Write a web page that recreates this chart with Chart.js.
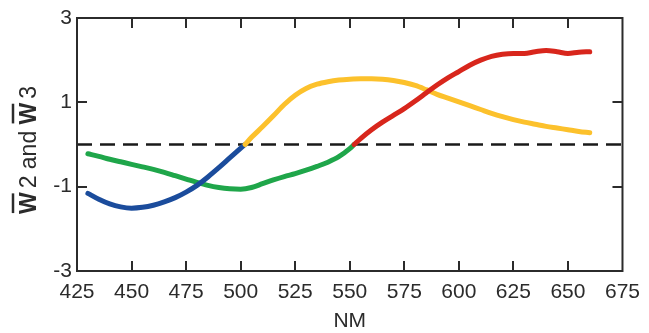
<!DOCTYPE html>
<html>
<head>
<meta charset="utf-8">
<script src="https://cdn.jsdelivr.net/npm/chart.js@4/dist/chart.umd.min.js"></script>
<style>
  html, body { margin: 0; padding: 0; background: #ffffff; }
  #wrap { width: 649px; height: 333px; }
</style>
</head>
<body>
<div id="wrap"><canvas id="c" width="649" height="333"></canvas></div>
<script>
// ---- data ----
const xTicks = [425, 450, 475, 500, 525, 550, 575, 600, 625, 650, 675];
const yTicks = [-3, -1, 1, 3];
const xTitle = 'NM';
const yTitleParts = [['W', true], ['2', false], [' and ', false], ['W', true], ['3', false]];

const blueX = [430, 435, 440, 445, 450, 455, 460, 465, 470, 475, 480, 485, 490, 495, 502];
const blueY = [-1.16, -1.30, -1.41, -1.48, -1.51, -1.49, -1.44, -1.36, -1.26, -1.13, -0.97, -0.77, -0.55, -0.32, 0.0];

const greenX = [430, 435, 440, 445, 450, 455, 460, 465, 470, 475, 480, 485, 490, 495, 500, 505, 510, 515, 520, 525, 530, 535, 540, 545, 550, 552];
const greenY = [-0.22, -0.28, -0.35, -0.41, -0.47, -0.53, -0.59, -0.66, -0.74, -0.82, -0.90, -0.97, -1.02, -1.05, -1.06, -1.02, -0.93, -0.84, -0.76, -0.69, -0.61, -0.52, -0.42, -0.29, -0.10, 0.0];

const yellowX = [502, 505, 510, 515, 520, 525, 530, 535, 540, 545, 550, 555, 560, 565, 570, 575, 580, 585, 590, 595, 600, 605, 610, 615, 620, 625, 630, 635, 640, 645, 650, 655, 660];
const yellowY = [0.0, 0.17, 0.42, 0.68, 0.95, 1.17, 1.33, 1.43, 1.49, 1.53, 1.55, 1.56, 1.56, 1.55, 1.52, 1.47, 1.40, 1.30, 1.19, 1.10, 1.01, 0.92, 0.83, 0.74, 0.66, 0.59, 0.53, 0.48, 0.43, 0.39, 0.35, 0.31, 0.28];

const redX = [552, 555, 560, 565, 570, 575, 580, 585, 590, 595, 600, 605, 610, 615, 620, 625, 630, 635, 640, 645, 650, 655, 660];
const redY = [0.0, 0.14, 0.35, 0.53, 0.69, 0.85, 1.03, 1.22, 1.41, 1.58, 1.73, 1.88, 2.00, 2.09, 2.14, 2.16, 2.16, 2.20, 2.23, 2.20, 2.16, 2.19, 2.20];

const zeroX = [425, 675];
const zeroY = [0, 0];

function pts(xs, ys) { return xs.map((x, i) => ({ x: x, y: ys[i] })); }

const AXIS_COLOR = '#2b2b2b';
const FONT_FAMILY = '"Liberation Sans", Arial, Helvetica, sans-serif';

const framePlugin = {
  id: 'frame',
  afterDraw(chart) {
    const ctx = chart.ctx;
    const a = chart.chartArea;
    const xs = chart.scales.x, ys = chart.scales.y;
    ctx.save();
    ctx.strokeStyle = AXIS_COLOR;
    ctx.lineWidth = 2;
    ctx.strokeRect(a.left, a.top, a.right - a.left, a.bottom - a.top);
    const L = 10;
    ctx.beginPath();
    xTicks.forEach(v => {
      const px = Math.round(xs.getPixelForValue(v));
      if (px <= a.left + 1 || px >= a.right - 1) return;
      ctx.moveTo(px, a.bottom); ctx.lineTo(px, a.bottom - L);
      ctx.moveTo(px, a.top); ctx.lineTo(px, a.top + L);
    });
    yTicks.forEach(v => {
      const py = Math.round(ys.getPixelForValue(v));
      if (py <= a.top + 1 || py >= a.bottom - 1) return;
      ctx.moveTo(a.left, py); ctx.lineTo(a.left + L, py);
      ctx.moveTo(a.right, py); ctx.lineTo(a.right - L, py);
    });
    ctx.stroke();

    // x title
    ctx.fillStyle = AXIS_COLOR;
    ctx.font = '21px ' + FONT_FAMILY;
    ctx.textAlign = 'center';
    ctx.textBaseline = 'middle';
    ctx.fillText(xTitle, (a.left + a.right) / 2, 321);

    // y title with overlined bold W
    ctx.translate(36, 150);
    ctx.rotate(-Math.PI / 2);
    ctx.textAlign = 'left';
    ctx.textBaseline = 'alphabetic';
    const fonts = { true: 'bold 23px ' + FONT_FAMILY, false: '23px ' + FONT_FAMILY };
    const gap = 4;
    let total = 0;
    const widths = yTitleParts.map(p => { ctx.font = fonts[p[1]]; const w = ctx.measureText(p[0]).width; total += w + (p[1] ? gap : 0); return w; });
    let x = -total / 2;
    ctx.lineWidth = 2.5;
    yTitleParts.forEach((p, i) => {
      ctx.font = fonts[p[1]];
      ctx.fillText(p[0], x, 0);
      if (p[1]) {
        ctx.beginPath();
        ctx.moveTo(x + 1, -23);
        ctx.lineTo(x + widths[i] - 1, -23);
        ctx.stroke();
      }
      x += widths[i] + (p[1] ? gap : 0);
    });
    ctx.restore();
  }
};

const lineDefaults = { borderWidth: 5, pointRadius: 0, tension: 0.4, cubicInterpolationMode: 'monotone', fill: false, borderCapStyle: 'round', borderJoinStyle: 'round' };

new Chart(document.getElementById('c'), {
  type: 'line',
  data: {
    datasets: [
      { label: 'zero', data: pts(zeroX, zeroY), borderColor: '#1a1a1a', borderDash: [15, 8], borderWidth: 2.5, pointRadius: 0, tension: 0, order: 5 },
      Object.assign({ label: 'green', data: pts(greenX, greenY), borderColor: '#1fa64a', order: 4 }, lineDefaults),
      Object.assign({ label: 'blue', data: pts(blueX, blueY), borderColor: '#1b4c9c', order: 3 }, lineDefaults),
      Object.assign({ label: 'yellow', data: pts(yellowX, yellowY), borderColor: '#fcc12c', order: 2 }, lineDefaults),
      Object.assign({ label: 'red', data: pts(redX, redY), borderColor: '#d8261c', order: 1 }, lineDefaults)
    ]
  },
  options: {
    responsive: false,
    animation: false,
    layout: { padding: { top: 18, right: 21, left: 0, bottom: 0 } },
    plugins: { legend: { display: false }, tooltip: { enabled: false } },
    scales: {
      x: {
        type: 'linear', min: 425, max: 675,
        grid: { display: false, drawTicks: false },
        border: { display: false },
        afterBuildTicks: s => { s.ticks = xTicks.map(v => ({ value: v })); },
        afterFit: s => { s.height = 62; },
        ticks: { autoSkip: false, maxRotation: 0, padding: 9, color: AXIS_COLOR, font: { size: 21, family: FONT_FAMILY } }
      },
      y: {
        type: 'linear', min: -3, max: 3,
        grid: { display: false, drawTicks: false },
        border: { display: false },
        afterBuildTicks: s => { s.ticks = yTicks.map(v => ({ value: v })); },
        afterFit: s => { s.width = 77; },
        ticks: { autoSkip: false, padding: 5, color: AXIS_COLOR, font: { size: 21, family: FONT_FAMILY } }
      }
    }
  },
  plugins: [framePlugin]
});
</script>
</body>
</html>
